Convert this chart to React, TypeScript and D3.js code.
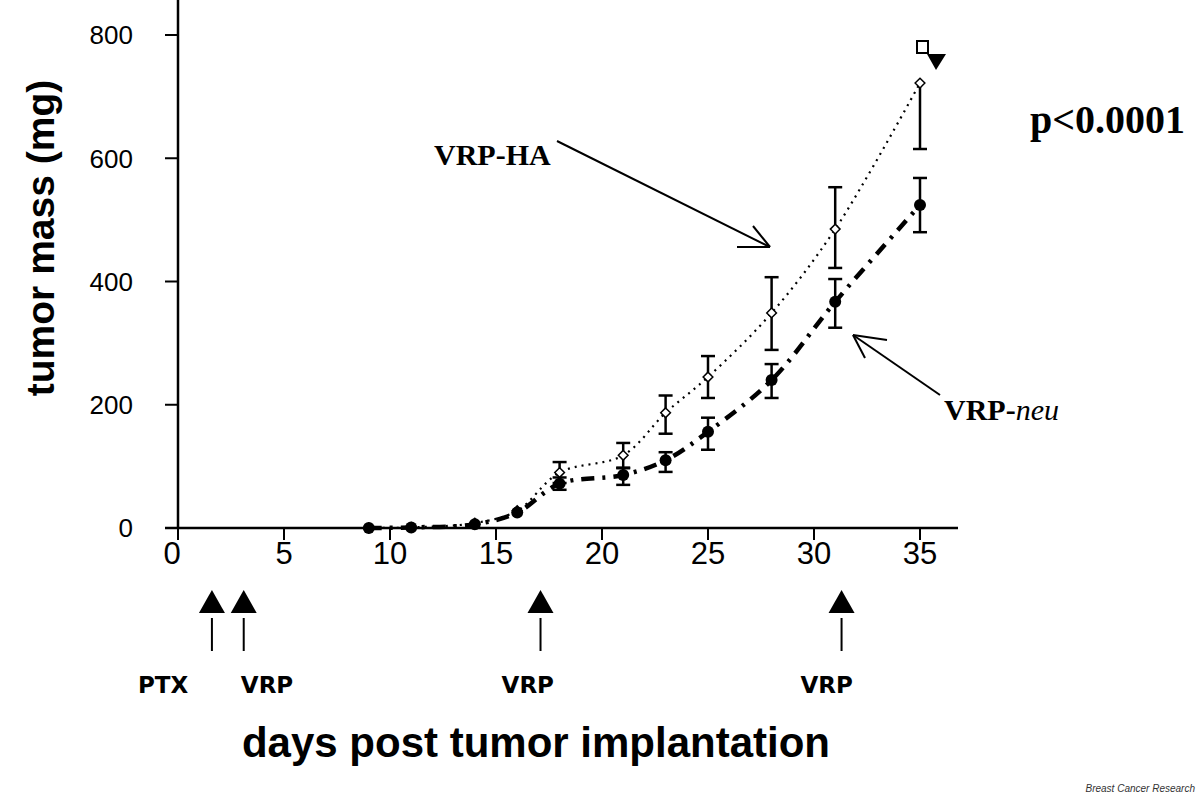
import React, { useEffect, useRef } from "react";
import * as d3 from "d3";

// days post implantation
const days = [9, 11, 14, 16, 18, 21, 23, 25, 28, 31, 35];

// VRP-HA (open diamonds, dotted)
const haMass = [0, 1, 8, 28, 90, 118, 187, 245, 349, 485, 722];
const haErrUp = [0, 0, 0, 0, 17, 20, 28, 34, 58, 68, 0];
const haErrDown = [0, 0, 0, 0, 17, 20, 34, 34, 60, 63, 107];

// VRP-neu (filled circles, dash-dot)
const neuMass = [0, 1, 6, 25, 72, 86, 110, 156, 240, 367, 524];
const neuErrUp = [0, 0, 0, 0, 10, 11, 13, 23, 26, 37, 44];
const neuErrDown = [0, 0, 0, 0, 10, 16, 19, 29, 29, 42, 44];

const yTicks = [0, 200, 400, 600, 800];
const xTicks = [0, 5, 10, 15, 20, 25, 30, 35];

// treatments under the x axis
const treatDays = [1.6, 3.1, 17.1, 31.3];
const treatLabels = ["PTX", "VRP", "VRP", "VRP"];
const treatLabelDays = [-0.7, 4.2, 16.5, 30.6];

export default function App() {
  const svgRef = useRef<SVGSVGElement | null>(null);

  useEffect(() => {
    const svg = d3.select(svgRef.current);
    svg.selectAll("*").remove();

    const x = d3.scaleLinear().domain([0, 35]).range([178, 920]);
    const y = d3.scaleLinear().domain([0, 800]).range([528, 35]);
    const x0 = x(0);
    const y0 = y(0);

    // axes
    svg.append("line").attr("x1", x0).attr("x2", x0).attr("y1", 0).attr("y2", y0)
      .attr("stroke", "#000").attr("stroke-width", 2.5);
    svg.append("line").attr("x1", 165).attr("x2", 958).attr("y1", y0).attr("y2", y0)
      .attr("stroke", "#000").attr("stroke-width", 2.5);

    const yg = svg.append("g");
    yTicks.forEach((t) => {
      yg.append("line").attr("x1", 165).attr("x2", x0).attr("y1", y(t)).attr("y2", y(t))
        .attr("stroke", "#000").attr("stroke-width", 2);
      yg.append("text").attr("x", 133).attr("y", y(t)).attr("dy", "0.36em")
        .attr("text-anchor", "end").attr("font-family", "Liberation Sans, Arial, sans-serif")
        .attr("font-size", 26).text(t);
    });

    const xg = svg.append("g");
    xTicks.forEach((t) => {
      xg.append("line").attr("x1", x(t)).attr("x2", x(t)).attr("y1", y0).attr("y2", y0 + 12)
        .attr("stroke", "#000").attr("stroke-width", 2);
      xg.append("text").attr("x", t === 0 ? x(t) - 6 : x(t)).attr("y", 564)
        .attr("text-anchor", "middle").attr("font-family", "Liberation Sans, Arial, sans-serif")
        .attr("font-size", 31).text(t);
    });

    // axis titles
    svg.append("text").attr("transform", `translate(54,238) rotate(-90)`)
      .attr("text-anchor", "middle").attr("font-family", "Liberation Sans, Arial, sans-serif")
      .attr("font-weight", "bold").attr("font-size", 39).text("tumor mass (mg)");
    svg.append("text").attr("x", 536).attr("y", 757)
      .attr("text-anchor", "middle").attr("font-family", "Liberation Sans, Arial, sans-serif")
      .attr("font-weight", "bold").attr("font-size", 42).text("days post tumor implantation");

    // lines
    const line = d3.line<number>()
      .x((_, i) => x(days[i]))
      .y((d) => y(d))
      .curve(d3.curveCatmullRom);

    svg.append("path").attr("d", line(haMass)).attr("fill", "none")
      .attr("stroke", "#000").attr("stroke-width", 2.2)
      .attr("stroke-dasharray", "2 5");
    svg.append("path").attr("d", line(neuMass)).attr("fill", "none")
      .attr("stroke", "#000").attr("stroke-width", 4.5)
      .attr("stroke-dasharray", "13 8 3 8");

    // error bars
    const errBars = (vals: number[], up: number[], down: number[]) => {
      const g = svg.append("g").attr("stroke", "#000").attr("stroke-width", 2.5);
      vals.forEach((v, i) => {
        const cx = x(days[i]);
        if (up[i] > 0) {
          g.append("line").attr("x1", cx).attr("x2", cx).attr("y1", y(v)).attr("y2", y(v + up[i]));
          g.append("line").attr("x1", cx - 7).attr("x2", cx + 7).attr("y1", y(v + up[i])).attr("y2", y(v + up[i]));
        }
        if (down[i] > 0) {
          g.append("line").attr("x1", cx).attr("x2", cx).attr("y1", y(v)).attr("y2", y(v - down[i]));
          g.append("line").attr("x1", cx - 7).attr("x2", cx + 7).attr("y1", y(v - down[i])).attr("y2", y(v - down[i]));
        }
      });
    };
    errBars(haMass, haErrUp, haErrDown);
    errBars(neuMass, neuErrUp, neuErrDown);

    // markers
    const diamond = d3.symbol().type(d3.symbolDiamond2).size(60);
    svg.append("g").selectAll("path").data(haMass).join("path")
      .attr("d", diamond)
      .attr("transform", (d, i) => `translate(${x(days[i])},${y(d)})`)
      .attr("fill", "#fff").attr("stroke", "#000").attr("stroke-width", 1.5);
    svg.append("g").selectAll("circle").data(neuMass).join("circle")
      .attr("cx", (_, i) => x(days[i])).attr("cy", (d) => y(d)).attr("r", 6)
      .attr("fill", "#000");

    // legend remnants at top right
    svg.append("rect").attr("x", 917).attr("y", 41).attr("width", 11).attr("height", 12)
      .attr("fill", "#fff").attr("stroke", "#000").attr("stroke-width", 2);
    svg.append("path").attr("d", "M927,54 L946,54 L936,70 Z").attr("fill", "#000");

    // annotations
    const serif = "Liberation Serif, Times New Roman, serif";
    svg.append("text").attr("x", 1030).attr("y", 133).attr("font-family", serif)
      .attr("font-weight", "bold").attr("font-size", 40).text("p<0.0001");
    svg.append("text").attr("x", 434).attr("y", 165).attr("font-family", serif)
      .attr("font-weight", "bold").attr("font-size", 30).text("VRP-HA");
    const neuT = svg.append("text").attr("x", 944).attr("y", 420).attr("font-family", serif)
      .attr("font-weight", "bold").attr("font-size", 30);
    neuT.append("tspan").text("VRP-");
    neuT.append("tspan").attr("font-style", "italic").attr("font-weight", "normal").text("neu");

    const arrow = (x1: number, y1: number, x2: number, y2: number, h: [number, number][]) => {
      const g = svg.append("g").attr("stroke", "#000").attr("stroke-width", 2)
        .attr("fill", "none");
      g.append("line").attr("x1", x1).attr("y1", y1).attr("x2", x2).attr("y2", y2);
      h.forEach(([hx, hy]) => g.append("line").attr("x1", x2).attr("y1", y2).attr("x2", hx).attr("y2", hy));
    };
    arrow(557, 141, 770, 247, [[737, 247], [753, 226]]);
    arrow(940, 395, 853, 335, [[887, 340], [865, 358]]);

    // treatment markers
    const tg = svg.append("g");
    treatDays.forEach((d, i) => {
      const cx = x(d);
      tg.append("path").attr("d", `M${cx},590 L${cx + 13},613 L${cx - 13},613 Z`).attr("fill", "#000");
      tg.append("line").attr("x1", cx).attr("x2", cx).attr("y1", 618).attr("y2", 651)
        .attr("stroke", "#000").attr("stroke-width", 2);
      tg.append("text").attr("x", x(treatLabelDays[i])).attr("y", 693)
        .attr("text-anchor", "middle").attr("font-family", "DejaVu Sans, Verdana, sans-serif")
        .attr("font-weight", "bold").attr("font-size", 23).text(treatLabels[i]);
    });

    svg.append("text").attr("x", 1195).attr("y", 792).attr("text-anchor", "end")
      .attr("font-family", "Liberation Sans, Arial, sans-serif").attr("font-style", "italic")
      .attr("font-size", 10).attr("fill", "#333").text("Breast Cancer Research");
  }, []);

  return (
    <svg
      ref={svgRef}
      width={1200}
      height={796}
      style={{ position: "absolute", left: 0, top: 0, background: "#fff" }}
    />
  );
}
